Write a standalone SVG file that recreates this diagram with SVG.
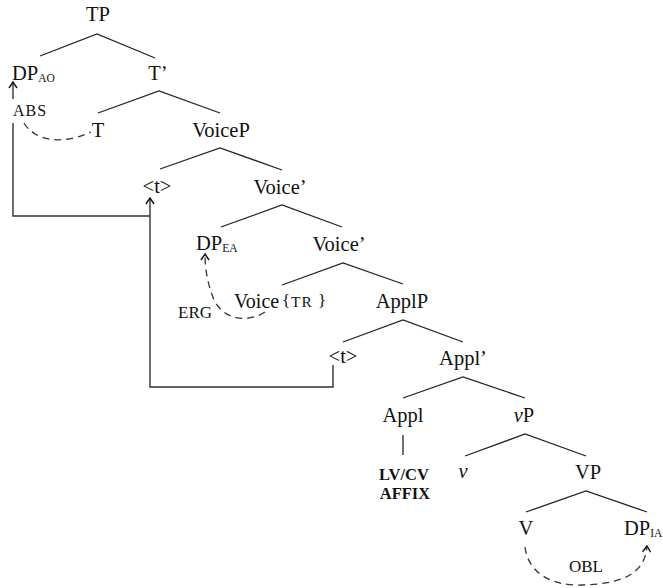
<svg xmlns="http://www.w3.org/2000/svg" width="663" height="588" viewBox="0 0 663 588">
  <style>
    text { font-family: "Liberation Serif", "DejaVu Serif", serif; fill: #111; }
    .lbl { font-size: 20.5px; text-anchor: middle; }
    .dp { font-size: 20.5px; }
    .sub { font-size: 11.5px; }
    .sc { font-size: 16px; }
    .bold { font-size: 16.5px; font-weight: bold; text-anchor: middle; }
    .branch { stroke: #222; stroke-width: 1.3; fill: none; }
    .move { stroke: #333; stroke-width: 1.4; fill: none; }
    .dash { stroke: #333; stroke-width: 1.3; fill: none; stroke-dasharray: 7 5; }
  </style>
  <defs>
    <!-- open arrowhead pointing along the path direction -->
    <marker id="arr" viewBox="0 0 10 10" refX="9" refY="5" markerWidth="10" markerHeight="10" markerUnits="userSpaceOnUse" orient="auto">
      <path d="M3,1 L9,5 L3,9" fill="none" stroke="#111" stroke-width="1.4"/>
    </marker>
  </defs>

  <!-- tree branches -->
  <g id="connectors">
    <path class="branch" d="M40,56 L97,34 L155,58"/>
    <path class="branch" d="M98,113 L159,91 L220,113"/>
    <path class="branch" d="M160,169 L220,148 L282,170"/>
    <path class="branch" d="M221,227 L282,205 L342,227"/>
    <path class="branch" d="M282,285 L343,263 L403,284"/>
    <path class="branch" d="M343,342 L403,320 L463,342"/>
    <path class="branch" d="M403,398 L463,377 L525,398"/>
    <path class="branch" d="M403,435 L403,455"/>
    <path class="branch" d="M465,456 L525,434 L586,456"/>
    <path class="branch" d="M526,512 L586,491 L647,512"/>

    <!-- movement of the absolutive object through the <t> copies -->
    <path class="move" d="M13,123 V216 H150"/>
    <path class="move" d="M333,365 V387 H150 V198" marker-end="url(#arr)"/>
    <path class="move" d="M13,99 V82" marker-end="url(#arr)"/>

    <!-- case assignment arcs -->
    <path class="dash" d="M24,123 C34,140 60,146 91,132"/>
    <path class="dash" d="M265,312 C250,322 225,322 214,300 C208,285 205,270 205,254" marker-end="url(#arr)"/>
    <path class="dash" d="M525,547 C528,572 550,586 582,585 C620,584 645,575 647,546" marker-end="url(#arr)"/>
  </g>

  <g id="TP"><text class="lbl" x="98" y="21">TP</text></g>
  <g id="DP-AO"><text class="dp" x="12" y="80">DP<tspan class="sub" dy="1.5">AO</tspan></text></g>
  <g id="ABS"><text class="sc" x="13" y="116" letter-spacing="1">ABS</text></g>
  <g id="T-bar"><text class="lbl" x="158" y="80">T’</text></g>
  <g id="T"><text class="lbl" x="98" y="137">T</text></g>
  <g id="VoiceP"><text class="lbl" x="221" y="137">VoiceP</text></g>
  <g id="t-copy-1"><text class="lbl" x="157" y="193">&lt;t&gt;</text></g>
  <g id="Voice-bar-1"><text class="lbl" x="280" y="194">Voice’</text></g>
  <g id="DP-EA"><text class="dp" x="196" y="250">DP<tspan class="sub" font-size="12.5px" dy="1.5">EA</tspan></text></g>
  <g id="Voice-bar-2"><text class="lbl" x="339" y="251">Voice’</text></g>
  <g id="ERG"><text x="178" y="318" font-size="17px">ERG</text></g>
  <g id="Voice-TR">
    <text x="234" y="308" font-size="20px">Voice</text>
    <text x="282" y="306" font-size="17px">{</text>
    <text x="291" y="307" font-size="15.5px" letter-spacing="1">TR</text>
    <text x="318" y="306" font-size="17px">}</text>
  </g>
  <g id="ApplP"><text class="lbl" x="402" y="308">ApplP</text></g>
  <g id="t-copy-2"><text class="lbl" x="343" y="363">&lt;t&gt;</text></g>
  <g id="Appl-bar"><text class="lbl" x="463" y="365">Appl’</text></g>
  <g id="Appl"><text class="lbl" x="403" y="422">Appl</text></g>
  <g id="LVCV"><text class="bold" x="404" y="480">LV/CV</text><text class="bold" x="405" y="499">AFFIX</text></g>
  <g id="vP"><text class="lbl" x="524" y="422"><tspan font-style="italic">v</tspan>P</text></g>
  <g id="v"><text class="lbl" x="463" y="478" font-style="italic">v</text></g>
  <g id="VP"><text class="lbl" x="588" y="479">VP</text></g>
  <g id="V"><text class="lbl" x="526" y="535">V</text></g>
  <g id="DP-IA"><text class="dp" x="624" y="535">DP<tspan class="sub" font-size="15px" dy="1.5">IA</tspan></text></g>
  <g id="OBL"><text x="569" y="572" font-size="17px">OBL</text></g>
</svg>
